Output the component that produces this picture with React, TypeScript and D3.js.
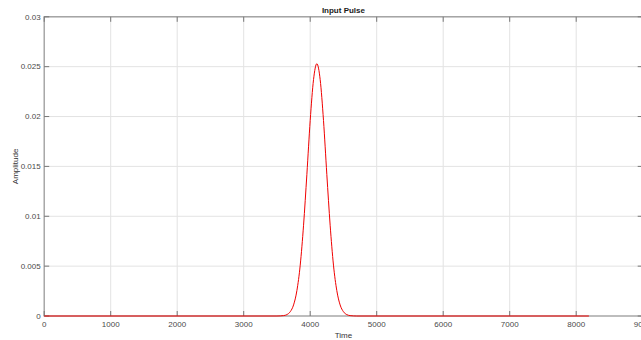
import React, { useEffect, useRef } from 'react';
import * as d3 from 'd3';

// samples
const pulseTime = [
  0, 3500, 3550, 3600, 3650, 3700, 3750, 3800, 3850, 3900, 3950, 4000, 4050, 4100,
  4150, 4200, 4250, 4300, 4350, 4400, 4450, 4500, 4550, 4600, 4650, 4700, 8191,
];
const pulseAmp = [
  0, 0, 0.00001, 0.00004, 0.00014, 0.00043, 0.00111, 0.00255, 0.0051, 0.0091, 0.0142, 0.0196, 0.0237, 0.0253,
  0.0237, 0.0196, 0.0142, 0.0091, 0.0051, 0.00255, 0.00111, 0.00043, 0.00014, 0.00004, 0.00001, 0, 0,
];
const xTicks = [0, 1000, 2000, 3000, 4000, 5000, 6000, 7000, 8000, 9000];
const yTicks = [0, 0.005, 0.01, 0.015, 0.02, 0.025, 0.03];
const yTickLabels = ['0', '0.005', '0.01', '0.015', '0.02', '0.025', '0.03'];

const App = () => {
  const svgRef = useRef<SVGSVGElement>(null);

  useEffect(() => {
    const W = 641;
    const H = 340;
    const left = 44.2;
    const right = 642.7;
    const top = 16.8;
    const bottom = 316;
    const font = '"Liberation Sans", Arial, Helvetica, sans-serif';

    const svg = d3.select(svgRef.current);
    svg.selectAll('*').remove();
    svg.attr('width', W).attr('height', H);

    const x = d3.scaleLinear().domain([0, 9000]).range([left, right]);
    const y = d3.scaleLinear().domain([0, 0.03]).range([bottom, top]);

    svg.append('rect').attr('width', W).attr('height', H).attr('fill', '#fff');

    // grid
    const grid = svg.append('g').attr('stroke', '#e3e3e3').attr('stroke-width', 1);
    xTicks.slice(1).forEach(t => {
      grid.append('line').attr('x1', x(t)).attr('x2', x(t)).attr('y1', top).attr('y2', bottom);
    });
    yTicks.slice(1).forEach(t => {
      grid.append('line').attr('x1', left).attr('x2', right).attr('y1', y(t)).attr('y2', y(t));
    });

    // box + ticks
    const axisColor = '#9a9a9a';
    svg.append('rect')
      .attr('x', left).attr('y', top)
      .attr('width', right - left).attr('height', bottom - top)
      .attr('fill', 'none').attr('stroke', axisColor).attr('stroke-width', 1.3);

    const tk = svg.append('g').attr('stroke', '#777').attr('stroke-width', 1);
    xTicks.forEach(t => {
      tk.append('line').attr('x1', x(t)).attr('x2', x(t)).attr('y1', bottom).attr('y2', bottom - 5);
      tk.append('line').attr('x1', x(t)).attr('x2', x(t)).attr('y1', top).attr('y2', top + 5);
    });
    yTicks.forEach(t => {
      tk.append('line').attr('x1', left).attr('x2', left + 5).attr('y1', y(t)).attr('y2', y(t));
      tk.append('line').attr('x1', right).attr('x2', right - 5).attr('y1', y(t)).attr('y2', y(t));
    });

    // tick labels
    svg.append('g').selectAll('text')
      .data(xTicks)
      .enter()
      .append('text')
      .attr('x', d => x(d))
      .attr('y', 327)
      .attr('text-anchor', 'middle')
      .style('font-family', font)
      .style('font-size', '8px')
      .style('fill', '#4a4a4a')
      .text(d => String(d));

    svg.append('g').selectAll('text')
      .data(yTicks)
      .enter()
      .append('text')
      .attr('x', left - 3.5)
      .attr('y', d => y(d))
      .attr('dy', '0.35em')
      .attr('text-anchor', 'end')
      .style('font-family', font)
      .style('font-size', '8px')
      .style('fill', '#4a4a4a')
      .text((d, i) => yTickLabels[i]);

    // pulse
    const pts = pulseTime.map((t, i) => [t, pulseAmp[i]] as [number, number]);
    const line = d3.line<[number, number]>()
      .x(d => x(d[0]))
      .y(d => y(d[1]))
      .curve(d3.curveMonotoneX);
    svg.append('path')
      .datum(pts)
      .attr('d', line)
      .attr('fill', 'none')
      .attr('stroke', '#f00000')
      .attr('stroke-width', 1);

    // title + labels
    svg.append('text')
      .attr('x', (left + right) / 2)
      .attr('y', 12.5)
      .attr('text-anchor', 'middle')
      .style('font-family', font)
      .style('font-size', '8px')
      .style('font-weight', 'bold')
      .style('fill', '#1a1a1a')
      .text('Input Pulse');

    svg.append('text')
      .attr('x', (left + right) / 2)
      .attr('y', 338)
      .attr('text-anchor', 'middle')
      .style('font-family', font)
      .style('font-size', '8px')
      .style('fill', '#333')
      .text('Time');

    svg.append('text')
      .attr('transform', `translate(17.5,${(top + bottom) / 2}) rotate(-90)`)
      .attr('text-anchor', 'middle')
      .style('font-family', font)
      .style('font-size', '8px')
      .style('fill', '#333')
      .text('Amplitude');
  }, []);

  return <svg ref={svgRef} style={{ position: 'absolute', left: 0, top: 0 }}></svg>;
};

export default App;
